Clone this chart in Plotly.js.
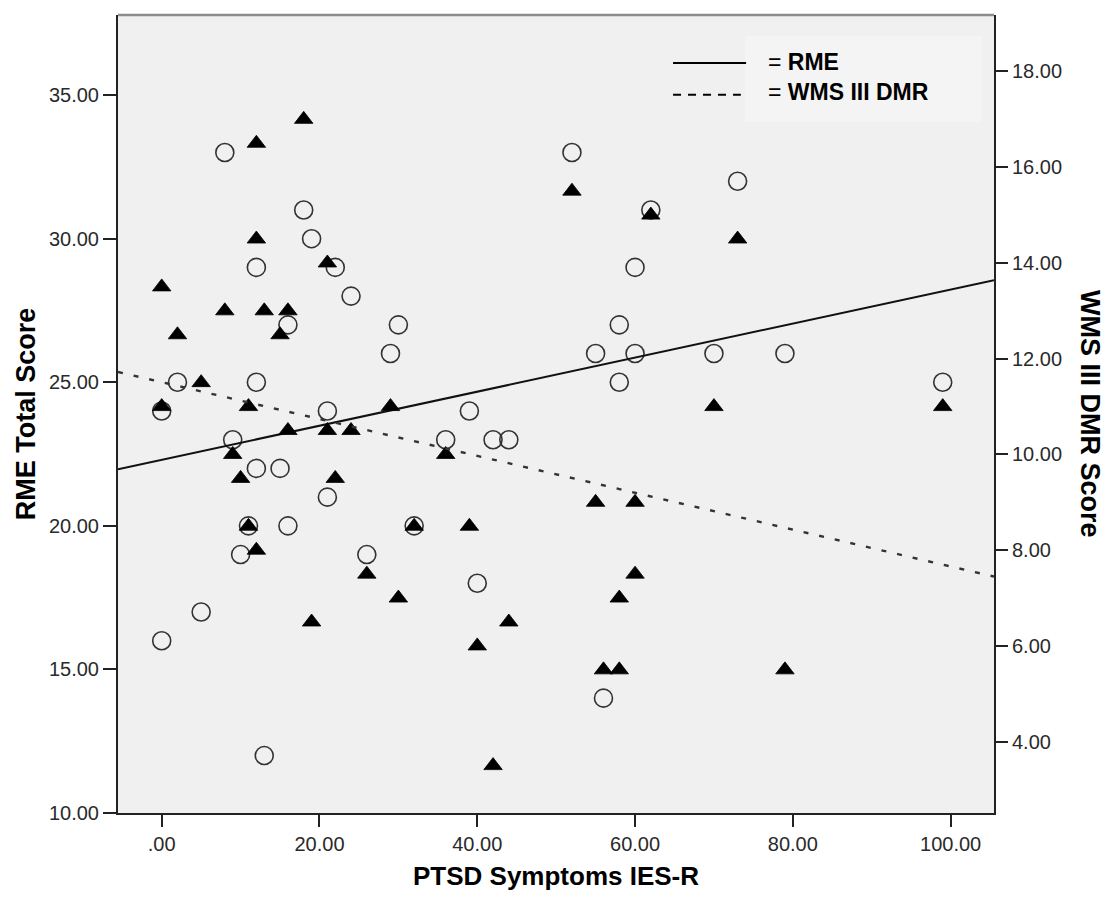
<!DOCTYPE html>
<html>
<head>
<meta charset="utf-8">
<script src="https://cdn.plot.ly/plotly-3.0.1.min.js"></script>
<style>
  html, body { margin: 0; padding: 0; background: #ffffff; }
  #chart { width: 1105px; height: 898px; }
</style>
</head>
<body>
<div id="chart"></div>
<script>
// ---- Data ----
// RME Total Score (open circles, left axis)
const rmePTSD   = [8, 18, 19, 12, 22, 24, 16, 30, 29, 2, 12, 0, 21, 9, 12, 15, 21, 11, 16, 10, 26, 5, 0, 13,
                   52, 62, 60, 58, 55, 60, 58, 39, 36, 42, 44, 32, 40, 56, 73, 70, 79, 99];
const rmeScore  = [33, 31, 30, 29, 29, 28, 27, 27, 26, 25, 25, 24, 24, 23, 22, 22, 21, 20, 20, 19, 19, 17, 16, 12,
                   33, 31, 29, 27, 26, 26, 25, 24, 23, 23, 23, 20, 18, 14, 32, 26, 26, 25];

// WMS III DMR Score (filled triangles, right axis)
const wmsPTSD   = [18, 12, 12, 21, 0, 8, 13, 16, 15, 2, 5, 0, 11, 29, 16, 21, 24, 9, 10, 22, 11, 12, 26, 19, 30,
                   52, 62, 36, 55, 60, 32, 39, 60, 44, 40, 58, 56, 58, 42, 73, 70, 99, 79];
const wmsScore  = [17, 16.5, 14.5, 14, 13.5, 13, 13, 13, 12.5, 12.5, 11.5, 11, 11, 11, 10.5, 10.5, 10.5, 10, 9.5, 9.5, 8.5, 8, 7.5, 6.5, 7,
                   15.5, 15, 10, 9, 9, 8.5, 8.5, 7.5, 6.5, 6, 7, 5.5, 5.5, 3.5, 14.5, 11, 11, 5.5];

// Fit lines (intercept, slope)
const rmeFitIntercept = 22.30, rmeFitSlope = 0.0593;
const wmsFitIntercept = 11.51, wmsFitSlope = -0.0385;

// Axis ranges and ticks
const xRange  = [-5.54, 105.5];
const yRange  = [10, 37.79];
const y2Range = [2.51, 19.18];
const xTickVals  = [0, 20, 40, 60, 80, 100];
const xTickText  = [".00", "20.00", "40.00", "60.00", "80.00", "100.00"];
const yTickVals  = [10, 15, 20, 25, 30, 35];
const yTickText  = ["10.00", "15.00", "20.00", "25.00", "30.00", "35.00"];
const y2TickVals = [4, 6, 8, 10, 12, 14, 16, 18];
const y2TickText = ["4.00", "6.00", "8.00", "10.00", "12.00", "14.00", "16.00", "18.00"];

// Text
const xTitle = "PTSD Symptoms IES-R";
const yTitle = "RME Total Score";
const y2Title = "WMS III DMR Score";
const legendRME = "RME";
const legendWMS = "WMS III DMR";

// ---- Build chart ----
const FONT = "Liberation Sans, Arial, sans-serif";
const fitLine = (b0, b1) => xRange.map(x => b0 + b1 * x);

const traces = [
  {
    x: rmePTSD, y: rmeScore, type: "scatter", mode: "markers", yaxis: "y",
    marker: { symbol: "circle", size: 18, color: "rgba(0,0,0,0)", line: { color: "#333333", width: 1.6 } },
    name: "RME", hoverinfo: "skip"
  },
  {
    x: wmsPTSD, y: wmsScore, type: "scatter", mode: "markers", yaxis: "y2",
    marker: { symbol: "triangle-up", size: 16, color: "#000000", line: { color: "#000000", width: 0.8 } },
    name: "WMS III DMR", hoverinfo: "skip"
  },
  {
    x: xRange, y: fitLine(rmeFitIntercept, rmeFitSlope), type: "scatter", mode: "lines", yaxis: "y",
    line: { color: "#111111", width: 2 }, hoverinfo: "skip"
  },
  {
    x: xRange, y: fitLine(wmsFitIntercept, wmsFitSlope), type: "scatter", mode: "lines", yaxis: "y2",
    line: { color: "#333333", width: 2.4, dash: "5px,11px" }, hoverinfo: "skip"
  }
];

const tickFont = { family: FONT, size: 20, color: "#2a2a2a" };

const layout = {
  width: 1105, height: 898,
  margin: { l: 118, r: 111, t: 15, b: 85 },
  paper_bgcolor: "#ffffff",
  plot_bgcolor: "#f0f0f0",
  showlegend: false,
  xaxis: {
    range: xRange, showgrid: false, zeroline: false,
    showline: true, linecolor: "#222222", linewidth: 2,
    ticks: "outside", ticklen: 12, tickwidth: 2, tickcolor: "#222222",
    tickvals: xTickVals, ticktext: xTickText, tickfont: tickFont,
    title: { text: xTitle, font: { family: FONT, size: 26, color: "#000000", weight: "bold" }, standoff: 13 }
  },
  yaxis: {
    range: yRange, showgrid: false, zeroline: false,
    showline: true, linecolor: "#222222", linewidth: 2,
    ticks: "outside", ticklen: 13, tickwidth: 2, tickcolor: "#222222",
    tickvals: yTickVals, ticktext: yTickText, tickfont: tickFont,
    title: { text: yTitle, font: { family: FONT, size: 27, color: "#000000", weight: "bold" }, standoff: 5 }
  },
  yaxis2: {
    range: y2Range, overlaying: "y", side: "right", showgrid: false, zeroline: false,
    showline: true, linecolor: "#222222", linewidth: 2,
    ticks: "outside", ticklen: 12, tickwidth: 2, tickcolor: "#222222",
    tickvals: y2TickVals, ticktext: y2TickText, tickfont: tickFont
  },
  shapes: [
    // top border
    { type: "line", xref: "paper", yref: "paper", x0: 0, x1: 1, y0: 1, y1: 1,
      line: { color: "#8c8c8c", width: 2.5 } },
    // legend box
    { type: "rect", xref: "paper", yref: "paper", x0: 0.716, x1: 0.986, y0: 0.866, y1: 0.974,
      fillcolor: "#f4f4f4", line: { width: 0 }, layer: "below" },
    // legend solid line
    { type: "line", xref: "paper", yref: "paper", x0: 0.6336, x1: 0.717, y0: 0.940, y1: 0.940,
      line: { color: "#000000", width: 2 } },
    // legend dashed line
    { type: "line", xref: "paper", yref: "paper", x0: 0.6336, x1: 0.711, y0: 0.900, y1: 0.900,
      line: { color: "#000000", width: 2, dash: "8px,7px" } }
  ],
  annotations: [
    { xref: "paper", yref: "paper", x: 0.7397, y: 0.941, xanchor: "left", yanchor: "middle",
      text: "= <b>" + legendRME + "</b>", showarrow: false,
      font: { family: FONT, size: 23, color: "#000000" } },
    { xref: "paper", yref: "paper", x: 0.7397, y: 0.9035, xanchor: "left", yanchor: "middle",
      text: "= <b>" + legendWMS + "</b>", showarrow: false,
      font: { family: FONT, size: 23, color: "#000000" } },
    { xref: "paper", yref: "paper", x: 1.1096, y: 0.5, xanchor: "center", yanchor: "middle",
      text: "<b>" + y2Title + "</b>", textangle: 90, showarrow: false,
      font: { family: FONT, size: 27, color: "#000000" } }
  ]
};

Plotly.newPlot("chart", traces, layout, { staticPlot: true, displayModeBar: false });
</script>
</body>
</html>
